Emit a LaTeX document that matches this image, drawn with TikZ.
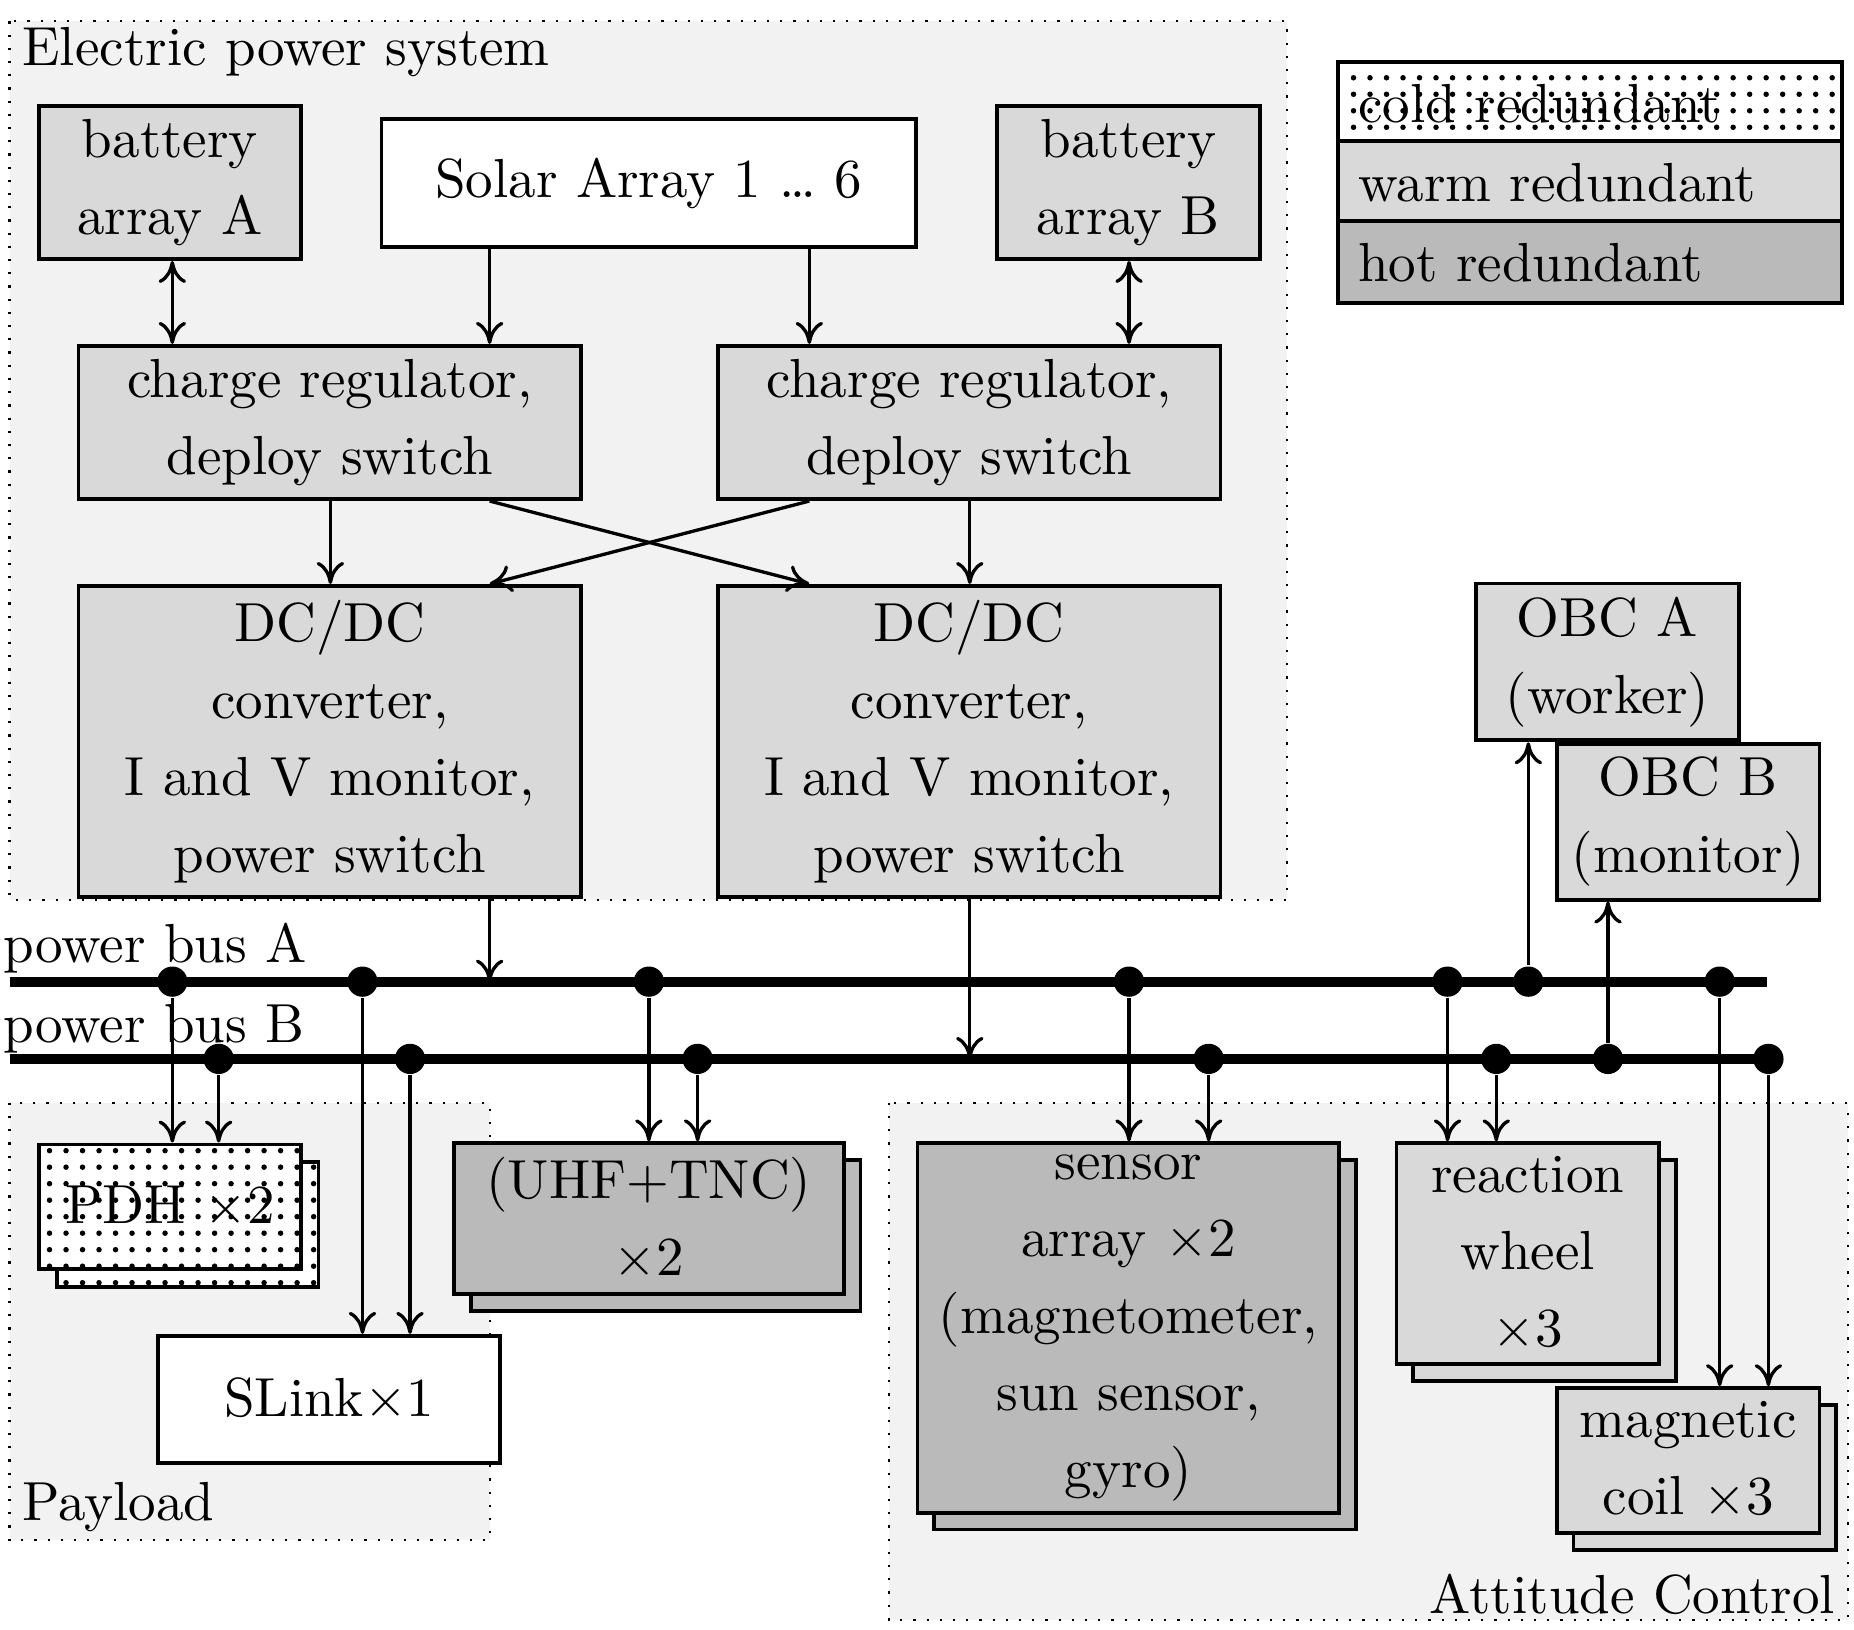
\documentclass[tikz,border=0pt]{standalone}
\usetikzlibrary{patterns,arrows.meta}
\begin{document}
\begin{tikzpicture}[x=0.216pt,y=-0.216pt,
  bx/.style 2 args={draw,line width=0.7pt,inner sep=0pt,minimum width=#1*0.216pt,minimum height=#2*0.216pt},
  warm/.style={fill=black!15},
  hot/.style={fill=black!27},
  cold/.style={preaction={fill=white},pattern=dots},
  txt/.style={align=center,inner sep=0pt,font=\fontsize{10}{14}\selectfont},
  region/.style={draw,dotted,fill=black!5,line width=0.4pt},
  arr/.style={line width=0.6pt,-{To[length=4pt,width=5pt]}},
  darr/.style={line width=0.6pt,{To[length=4pt,width=5pt]}-{To[length=4pt,width=5pt]}},
  bus/.style={line width=1.8pt},
  dot/.style={circle,fill,inner sep=0pt,minimum size=5.5pt}]
\useasboundingbox (0,0) rectangle (1560,1371);
% regions
\draw[region] (8,18) rectangle (1083,757);
\node[txt,anchor=north west] at (18,22) {Electric power system};
\draw[region] (8,928) rectangle (412,1296);
\node[txt,anchor=south west] at (18,1290) {Payload};
\draw[region] (748,928) rectangle (1555,1363);
\node[txt,anchor=south east] at (1545,1360) {Attitude Control};
% legend
\node[bx={424}{67},cold] (lc) at (1338,85.5) {};
\node[bx={424}{67},warm] (lw) at (1338,152.5) {};
\node[bx={424}{69},hot] (lh) at (1338,220.5) {};
\node[txt,anchor=west] at (1142,87) {cold redundant};
\node[txt,anchor=west] at (1142,154) {warm redundant};
\node[txt,anchor=west] at (1142,221) {hot redundant};
% EPS
\node[bx={220}{129},warm] (battA) at (143,153.5) {};
\node[txt] at (battA) {battery\\array A};
\node[bx={450}{108},fill=white] (solar) at (546,154) {};
\node[txt] at (solar) {Solar Array 1 \dots{} 6};
\node[bx={221}{129},warm] (battB) at (949.5,153.5) {};
\node[txt] at (battB) {battery\\array B};
\node[bx={423}{129},warm] (chgL) at (277.5,355.5) {};
\node[txt] at (chgL) {charge regulator,\\deploy switch};
\node[bx={423}{129},warm] (chgR) at (815.5,355.5) {};
\node[txt] at (chgR) {charge regulator,\\deploy switch};
\node[bx={423}{262},warm] (dcL) at (277.5,624) {};
\node[txt] at (dcL) {DC/DC\\converter,\\I and V monitor,\\power switch};
\node[bx={423}{262},warm] (dcR) at (815.5,624) {};
\node[txt] at (dcR) {DC/DC\\converter,\\I and V monitor,\\power switch};
\coordinate (sL) at (412,208); \coordinate (sR) at (681,208);
\draw[darr] (battA.south -| 145,0) -- (chgL.north -| 145,0);
\draw[darr] (battB.south -| 950,0) -- (chgR.north -| 950,0);
\draw[arr] (sL) -- (sL |- chgL.north);
\draw[arr] (sR) -- (sR |- chgR.north);
\draw[arr] (chgL.south -| 278,0) -- (dcL.north -| 278,0);
\draw[arr] (chgR.south -| 816,0) -- (dcR.north -| 816,0);
\draw[arr] (chgL.south -| 412,0) -- (dcR.north -| 681,0);
\draw[arr] (chgR.south -| 681,0) -- (dcL.north -| 412,0);
% buses
\coordinate (aS) at (8,826); \coordinate (aE) at (1487,826);
\coordinate (bS) at (8,891); \coordinate (bE) at (1497,891);
\draw[bus] (aS) -- (aE);
\draw[bus] (bS) -- (bE);
\node[txt,anchor=base west] at (2,810) {power bus A};
\node[txt,anchor=base west] at (2,877) {power bus B};
\draw[arr] (dcL.south -| 412,0) -- (412,826);
\draw[arr] (dcR.south -| 816,0) -- (816,891);
\foreach \n/\x in {a1/145,a2/305,a3/546,a4/950,a5/1218,a6/1286,a7/1447} \node[dot] (\n) at (\x,826) {};
\foreach \n/\x in {b1/184,b2/345,b3/587,b4/1017,b5/1259,b6/1353,b7/1488} \node[dot] (\n) at (\x,891) {};
% payload
\node[bx={220}{105},cold] (pdhb) at (158,1030.5) {};
\node[bx={220}{105},cold] (pdh) at (143,1015.5) {};
\node[txt] at (pdh) {PDH $\times$2};
\node[bx={288}{107},fill=white] (slink) at (277,1177.5) {};
\node[txt] at (slink) {SLink$\times$1};
\node[bx={328}{127},hot] (uhfb) at (560,1039.5) {};
\node[bx={328}{127},hot] (uhf) at (546,1025.5) {};
\node[txt] at (uhf) {(UHF+TNC)\\$\times$2};
% attitude
\node[bx={355}{311},hot] (senb) at (963.5,1131.5) {};
\node[bx={355}{311},hot] (sen) at (949.5,1117.5) {};
\node[txt] at (sen) {sensor\\array $\times$2\\(magnetometer,\\sun sensor,\\gyro)};
\node[bx={221}{186},warm] (rwb) at (1299.5,1069) {};
\node[bx={221}{186},warm] (rw) at (1285.5,1055) {};
\node[txt] at (rw) {reaction\\wheel\\$\times$3};
\node[bx={221}{122},warm] (coilb) at (1434.5,1243) {};
\node[bx={221}{122},warm] (coil) at (1420.5,1229) {};
\node[txt] at (coil) {magnetic\\coil $\times$3};
\node[bx={221}{132},warm] (obcA) at (1352.5,557) {};
\node[txt] at (obcA) {OBC A\\(worker)};
\node[bx={221}{131},warm] (obcB) at (1420.5,691.5) {};
\node[txt] at (obcB) {OBC B\\(monitor)};
% connections
\draw[arr] (a1) -- (a1 |- pdh.north);
\draw[arr] (b1) -- (b1 |- pdh.north);
\draw[arr] (a2) -- (a2 |- slink.north);
\draw[arr] (b2) -- (b2 |- slink.north);
\draw[arr] (a3) -- (a3 |- uhf.north);
\draw[arr] (b3) -- (b3 |- uhf.north);
\draw[arr] (a4) -- (a4 |- sen.north);
\draw[arr] (b4) -- (b4 |- sen.north);
\draw[arr] (a5) -- (a5 |- rw.north);
\draw[arr] (b5) -- (b5 |- rw.north);
\draw[arr] (a6) -- (a6 |- obcA.south);
\draw[arr] (b6) -- (b6 |- obcB.south);
\draw[arr] (a7) -- (a7 |- coil.north);
\draw[arr] (b7) -- (b7 |- coil.north);
\end{tikzpicture}
\end{document}
